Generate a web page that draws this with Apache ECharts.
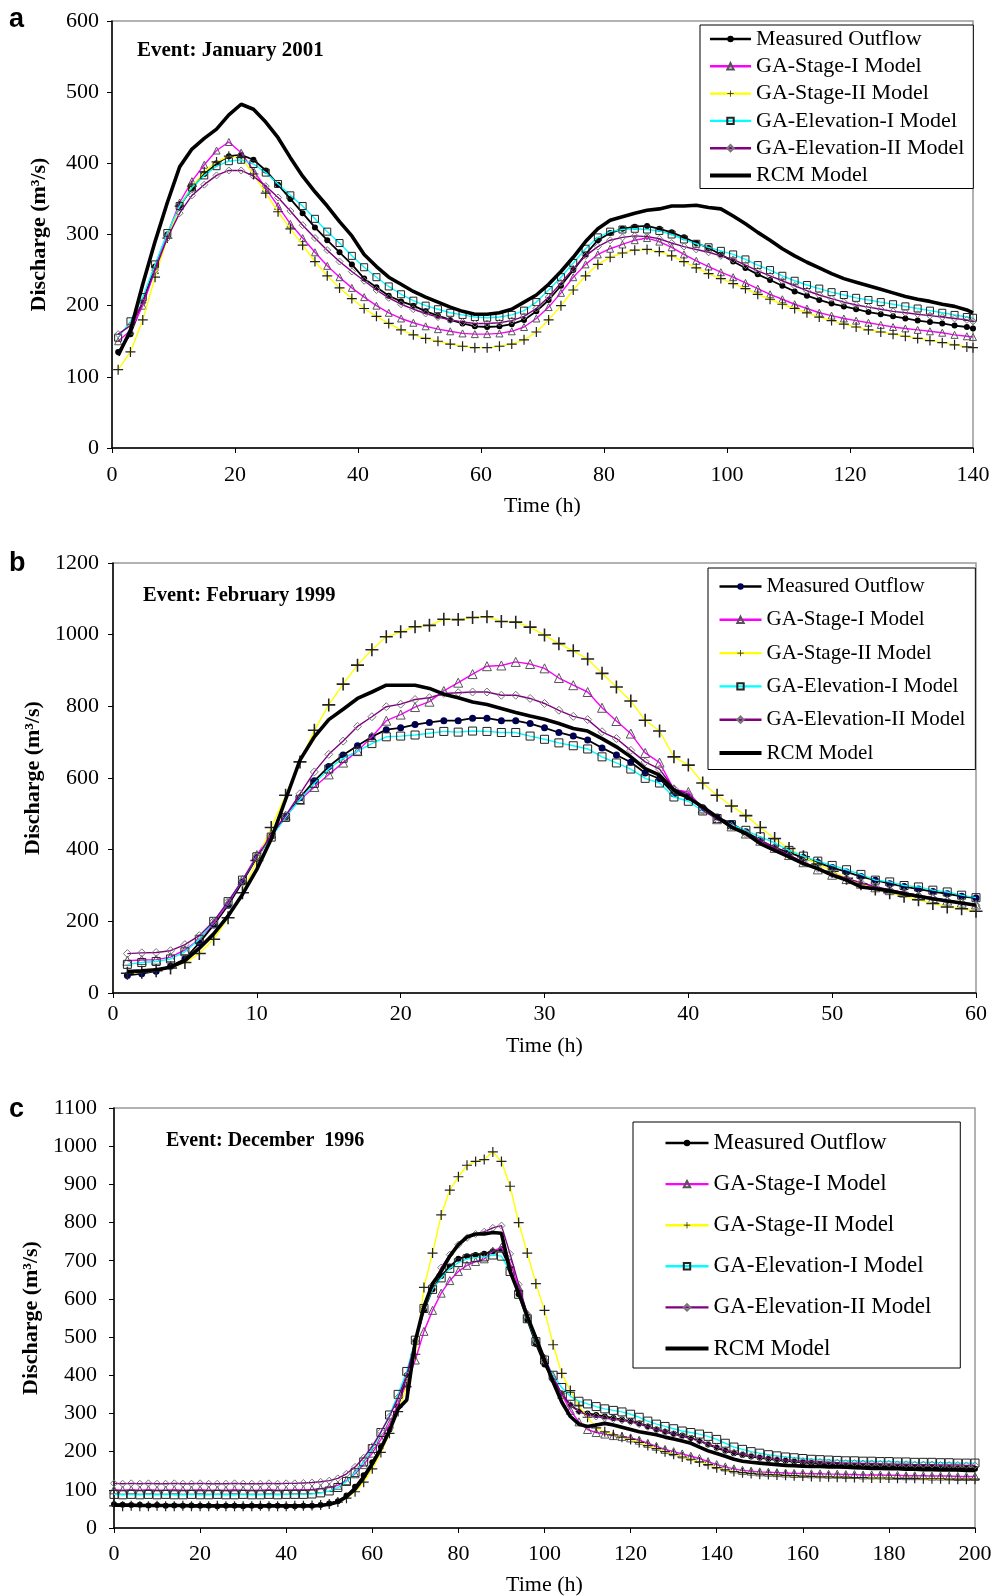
<!DOCTYPE html>
<html>
<head>
<meta charset="utf-8">
<script src="https://cdn.jsdelivr.net/npm/echarts@6/dist/echarts.min.js"></script>
<style>
html, body { margin: 0; padding: 0; background: #fff; }
#chart { width: 992px; height: 1596px; }
</style>
</head>
<body>
<div id="chart"></div>
<script>
// series names, same in all three panels
const seriesNames = ['Measured Outflow', 'GA-Stage-I Model', 'GA-Stage-II Model',
  'GA-Elevation-I Model', 'GA-Elevation-II Model', 'RCM Model'];

// hours of each panel
const timeA = [];
for (let t = 1; t < 140; t += 2) timeA.push(t);
timeA.push(140);
const timeB = [];
for (let t = 1; t <= 60; t++) timeB.push(t);
const timeC = [];
for (let t = 0; t <= 200; t += 2) timeC.push(t);

// panel a - January 2001
const measuredA = [135,160,205,255,300, 340,365,385,400,410, 412,405,390,370,350, 330,310,292,275,258,
  238,226,214,206,200, 192,186,180,175,171, 170,171,174,180,192, 208,228,250,272,292,
  302,308,311,312,308, 303,296,288,281,272, 262,253,244,236,228, 220,214,208,203,199,
  195,191,188,185,182, 179,177,175,172,170, 168];
const stage1A = [150,165,200,250,300, 345,375,398,418,430, 415,390,365,340,315, 295,275,256,240,225,
  212,200,190,182,176, 171,167,164,161,160, 160,161,164,170,182, 198,218,240,258,272,
  280,286,292,295,290, 282,272,263,255,247, 240,232,224,216,209, 202,196,190,186,182,
  179,176,173,170,168, 166,164,162,159,157, 156];
const stage2A = [110,135,180,240,295, 340,368,388,402,410, 408,385,358,332,308, 285,262,242,225,210,
  196,185,175,166,159, 154,150,146,143,141, 141,143,146,152,163, 180,200,222,242,258,
  268,274,278,279,276, 270,262,253,245,238, 231,224,216,209,202, 196,190,184,179,174,
  170,166,163,160,157, 154,151,148,145,142, 141];
const elev1A = [155,178,212,258,302, 340,366,383,396,403, 405,399,387,371,355, 340,322,304,288,270,
  254,240,227,216,207, 200,195,190,187,184, 183,184,187,193,205, 222,240,260,280,296,
  304,307,308,307,305, 300,293,287,282,277, 272,265,257,250,242, 235,229,224,219,215,
  211,208,205,202,199, 196,193,190,187,184, 183];
const elev2A = [160,172,205,250,295, 330,355,370,383,390, 390,382,368,352,333, 313,295,278,262,248,
  235,222,211,202,195, 189,184,180,177,175, 175,176,179,185,196, 212,232,252,270,283,
  292,296,298,297,294, 288,283,279,275,270, 265,257,249,242,235, 228,221,215,210,205,
  201,198,195,192,190, 188,186,184,182,180, 178];
const rcmA = [130,165,230,290,345, 395,420,435,448,468, 483,476,458,436,408, 382,360,340,318,298,
  272,255,240,230,220, 212,205,198,192,188, 188,190,195,205,215, 230,248,268,290,308,
  320,325,330,334,336, 340,340,341,338,336, 326,315,303,292,280, 270,261,253,245,238,
  233,228,223,218,213, 209,206,202,199,194, 190];

// panel b - February 1999
const measuredB = [49,54,61,75,95,140,190,245,310,378, 438,492,545,592,632,664,690,715,735,740,
  749,755,760,760,767,767,760,760,752,740, 727,717,706,684,664,644,614,598,556,547,
  517,491,473,450,426,406,392,378,364,350, 338,325,315,305,297,290,283,277,270,265];
const stage1B = [90,92,93,100,120,150,195,250,315,385, 445,495,539,575,610,643,675,715,760,777,
  798,813,843,866,890,912,914,924,918,906, 879,859,840,796,759,724,670,643,568,561,
  515,485,465,445,425,405,385,365,345,330, 318,305,295,287,280,272,265,258,252,247];
const stage2B = [55,58,62,70,85,110,150,210,280,370, 462,552,645,733,804,862,915,958,994,1008,
  1022,1026,1043,1042,1048,1050,1037,1035,1021,999, 975,955,932,892,854,815,761,731,659,636,
  586,552,522,495,462,431,403,380,360,340, 320,305,290,280,270,260,250,240,235,228];
const elev1B = [80,85,88,95,115,150,200,255,315,380, 435,490,540,585,625,655,675,696,715,717,
  720,725,730,728,731,730,727,727,717,708, 698,690,681,659,642,625,599,586,547,535,
  508,487,470,454,436,419,398,382,368,356, 344,331,315,310,300,296,287,282,273,266];
const elev2B = [110,112,113,118,135,160,200,255,315,380, 440,495,556,617,666,703,744,771,799,806,
  819,824,836,838,840,840,831,831,822,808, 789,772,763,729,710,677,645,625,570,555,
  510,485,465,445,425,405,385,365,348,333, 320,308,297,288,280,272,265,258,252,245];
const rcmB = [60,62,65,72,90,125,165,215,275,345, 430,540,650,715,763,792,822,840,859,859,
  859,850,834,824,812,805,794,783,773,764, 752,738,731,710,687,659,626,608,566,545,
  519,491,463,445,417,398,380,361,347,329, 315,296,291,285,277,270,263,257,251,245];

// panel c - December 1996
const measuredC = [62,61,60,61,59,60,58,59,58,59,58,58,57,58,58,57,58,57,58,58,57,57,58,58,
  60,64,70,85,108,138,172,212,258,318,
  400,490,570,625,660,685,705,712,715,718,725,730,680,612,545,482,428,
  388,350,322,306,300,
  296,292,288,284,280, 274,266,258,252,247, 242,236,228,219,210, 202,196,191,187,184,
  181,178,176,174,172, 170,168,166,165,164, 163,162,161,161,160, 160,159,159,158,158,
  157,157,156,156,155];
const stage1C = [100,99,100,99,100,99,99,100,99,99,100,99,99,99,100,99,99,99,100,99,99,100,100,101,
  103,106,112,124,142,166,196,232,272,326,
  380,440,515,570,615,648,672,688,698,705,725,735,695,630,560,495,445,
  398,350,308,278,258,
  250,246,242,240,236, 230,222,214,206,200, 194,188,182,174,166, 160,155,151,149,147,
  146,145,144,143,143, 142,142,141,141,140, 140,139,139,139,138, 138,137,137,137,136,
  136,136,135,135,135];
const stage2C = [58,57,58,57,57,58,57,57,58,57,57,57,58,57,57,57,57,58,57,57,57,58,58,59,
  60,63,68,78,95,120,155,198,248,305,
  370,455,630,720,820,885,920,950,960,965,985,960,895,800,720,640,570,
  480,405,360,320,290,
  262,252,244,238,232, 224,216,208,200,193, 186,180,173,166,158, 152,148,145,143,141,
  140,139,138,137,136, 135,134,134,133,133, 132,132,131,131,131, 130,130,130,129,129,
  129,128,128,128,128];
const elev1C = [88,87,88,87,88,87,88,87,87,88,87,87,88,87,87,88,87,87,88,87,88,88,88,89,
  92,97,106,122,145,173,208,250,296,350,
  410,492,575,625,655,680,695,705,708,710,715,712,672,612,548,488,440,
  400,368,345,332,325,
  318,312,308,304,298, 290,280,272,266,260, 254,250,246,240,232, 222,212,206,200,196,
  192,189,186,184,182, 180,179,178,177,176, 176,175,175,174,174, 173,173,172,172,172,
  171,171,170,170,170];
const elev2C = [117,116,117,116,117,116,116,117,116,116,117,116,116,116,117,116,116,116,117,116,117,117,118,119,
  121,124,130,142,160,184,214,252,292,342,
  400,490,578,636,682,716,742,760,770,776,786,792,718,638,560,492,438,
  392,352,322,305,296,
  292,288,285,282,278, 272,265,258,252,246, 240,234,228,220,212, 204,198,193,189,186,
  183,180,178,176,175, 174,173,172,171,170, 170,169,169,168,168, 167,167,166,166,166,
  165,165,165,164,164];
const rcmC = [60,60,60,59,59,59,59,59,59,58,58,58,58,58,58,58,58,58,58,58,58,58,58,58,
  59,62,68,82,102,132,168,208,255,312,
  335,490,580,640,672,712,742,762,770,770,774,772,672,615,555,498,440,
  382,330,292,272,266,
  270,274,270,264,258, 252,248,244,238,233, 228,222,212,202,195, 188,180,175,172,170,
  168,166,164,163,162, 161,161,160,160,159, 158,157,156,156,155, 155,154,154,153,153,
  152,152,152,151,151];

const plusPath = 'path://M4.4,0H5.6V4.4H10V5.6H5.6V10H4.4V5.6H0V4.4H4.4Z';
const serifFont = '"Liberation Serif", "Times New Roman", serif';

const panels = [
  {
    key: 'a', times: timeA, values: [measuredA, stage1A, stage2A, elev1A, elev2A, rcmA],
    grid: { left: 112, right: 19, top: 21, height: 427 },
    xMax: 140, xInt: 20, yMax: 600, yInt: 100, xMargin: 16, yMargin: 13, nameGap: 47,
    sizes: [6, 7, 10, 7, 7], dotColor: '#000',
    legend: { left: 700, top: 25, padding: [3, 9, 2, 8], itemWidth: 41, fontSize: 22, gap: 5.3 },
    event: 'Event: January 2001', eventPos: [137, 40], eventSize: 21, letterY: 6
  },
  {
    key: 'b', times: timeB, values: [measuredB, stage1B, stage2B, elev1B, elev2B, rcmB],
    grid: { left: 113, right: 16, top: 563, height: 430 },
    xMax: 60, xInt: 10, yMax: 1200, yInt: 200, xMargin: 10, yMargin: 14, nameGap: 42,
    sizes: [7, 9, 13, 8, 8], dotColor: '#000050',
    legend: { left: 708, top: 568, padding: [8, 10, 6, 9.5], itemWidth: 42, fontSize: 21, gap: 12.3 },
    event: 'Event: February 1999', eventPos: [143, 585], eventSize: 20.5, letterY: 550
  },
  {
    key: 'c', times: timeC, values: [measuredC, stage1C, stage2C, elev1C, elev2C, rcmC],
    grid: { left: 114, right: 17, top: 1108, height: 420 },
    xMax: 200, xInt: 20, yMax: 1100, yInt: 100, xMargin: 15, yMargin: 17, nameGap: 46,
    sizes: [6, 8, 10, 8, 7], dotColor: '#000',
    legend: { left: 633, top: 1122, padding: [9.5, 29, 8, 30.5], itemWidth: 43, fontSize: 23, gap: 18.1 },
    event: 'Event: December  1996', eventPos: [166, 1131], eventSize: 20, letterY: 1096
  }
];

function seriesStyle(i, p) {
  const s = p.sizes;
  const clear = 'rgba(255,255,255,0)';
  switch (i) {
    case 0: return { lineStyle: { color: '#000', width: 1.8 }, symbol: 'circle', symbolSize: s[0],
      itemStyle: { color: p.dotColor } };
    case 1: return { lineStyle: { color: '#ff00ff', width: 1.4 }, symbol: 'triangle', symbolSize: s[1],
      itemStyle: { color: clear, borderColor: '#555', borderWidth: 1 } };
    case 2: return { lineStyle: { color: '#ffff00', width: 1.4 }, symbol: plusPath, symbolSize: s[2],
      itemStyle: { color: '#222' } };
    case 3: return { lineStyle: { color: '#00ffff', width: 1.4 }, symbol: 'rect', symbolSize: s[3],
      itemStyle: { color: clear, borderColor: '#222', borderWidth: 1 } };
    case 4: return { lineStyle: { color: '#800080', width: 1.4 }, symbol: 'diamond', symbolSize: s[4],
      itemStyle: { color: clear, borderColor: '#777', borderWidth: 1 } };
    default: return { lineStyle: { color: '#000', width: 3.6 }, symbol: 'none',
      itemStyle: { color: '#000', opacity: 0 } };
  }
}

const grids = [], xAxes = [], yAxes = [], series = [], legends = [], texts = [];

panels.forEach((p, pi) => {
  grids.push(Object.assign({ show: true, borderColor: '#999', borderWidth: 1.5,
    backgroundColor: '#fff', containLabel: false, outerBoundsMode: 'none' }, p.grid));

  xAxes.push({
    gridIndex: pi, type: 'value', min: 0, max: p.xMax, interval: p.xInt,
    name: 'Time (h)', nameLocation: 'middle', nameGap: p.nameGap,
    nameTextStyle: { fontFamily: serifFont, fontSize: 22, color: '#000' },
    axisLine: { lineStyle: { color: '#000', width: 1.5 } },
    axisTick: { inside: false, length: 5, lineStyle: { color: '#000' } },
    axisLabel: { margin: p.xMargin, fontFamily: serifFont, fontSize: 22, color: '#000',
      formatter: v => String(v) },
    splitLine: { show: false }
  });

  yAxes.push({
    gridIndex: pi, type: 'value', min: 0, max: p.yMax, interval: p.yInt,
    name: 'Discharge (m³/s)', nameLocation: 'middle', nameGap: 62,
    nameTextStyle: { fontFamily: serifFont, fontSize: 22, fontWeight: 'bold', color: '#000' },
    axisLine: { show: true, lineStyle: { color: '#000', width: 1.5 } },
    axisTick: { show: true, inside: false, length: 5, lineStyle: { color: '#000' } },
    axisLabel: { margin: p.yMargin, fontFamily: serifFont, fontSize: 22, color: '#000',
      formatter: v => String(v) },
    splitLine: { show: false }
  });

  seriesNames.forEach((nm, i) => {
    const vals = p.values[i];
    series.push(Object.assign({
      type: 'line',
      name: p.key + '|' + nm,
      xAxisIndex: pi, yAxisIndex: pi,
      data: p.times.map((t, k) => [t, vals[k]]),
      showSymbol: i !== 5,
      smooth: false,
      z: 2 + i,
      emphasis: { disabled: true }
    }, seriesStyle(i, p)));
  });

  const lg = p.legend;
  legends.push({
    orient: 'vertical', left: lg.left, top: lg.top, padding: lg.padding,
    itemWidth: lg.itemWidth, itemHeight: 8, itemGap: lg.gap,
    backgroundColor: '#fff', borderColor: '#000', borderWidth: 1,
    selectedMode: false,
    data: seriesNames.map((nm, i) => i === 5
      ? { name: p.key + '|' + nm, itemStyle: { opacity: 0 }, lineStyle: { width: 4 } }
      : { name: p.key + '|' + nm, lineStyle: { width: 2.4 } }),
    formatter: name => name.split('|')[1],
    textStyle: { fontFamily: serifFont, fontSize: lg.fontSize, lineHeight: lg.fontSize, color: '#000' }
  });

  texts.push({
    type: 'text', left: 9, top: p.letterY,
    style: { text: p.key, font: 'bold 27px "Liberation Sans", Arial, sans-serif', fill: '#000' }
  });
  texts.push({
    type: 'text', left: p.eventPos[0], top: p.eventPos[1],
    style: { text: p.event, font: 'bold ' + p.eventSize + 'px ' + serifFont, fill: '#000' }
  });
});

const chart = echarts.init(document.getElementById('chart'), null, { renderer: 'canvas' });
chart.setOption({
  animation: false,
  backgroundColor: '#fff',
  grid: grids,
  xAxis: xAxes,
  yAxis: yAxes,
  legend: legends,
  series: series,
  graphic: texts
});
</script>
</body>
</html>
